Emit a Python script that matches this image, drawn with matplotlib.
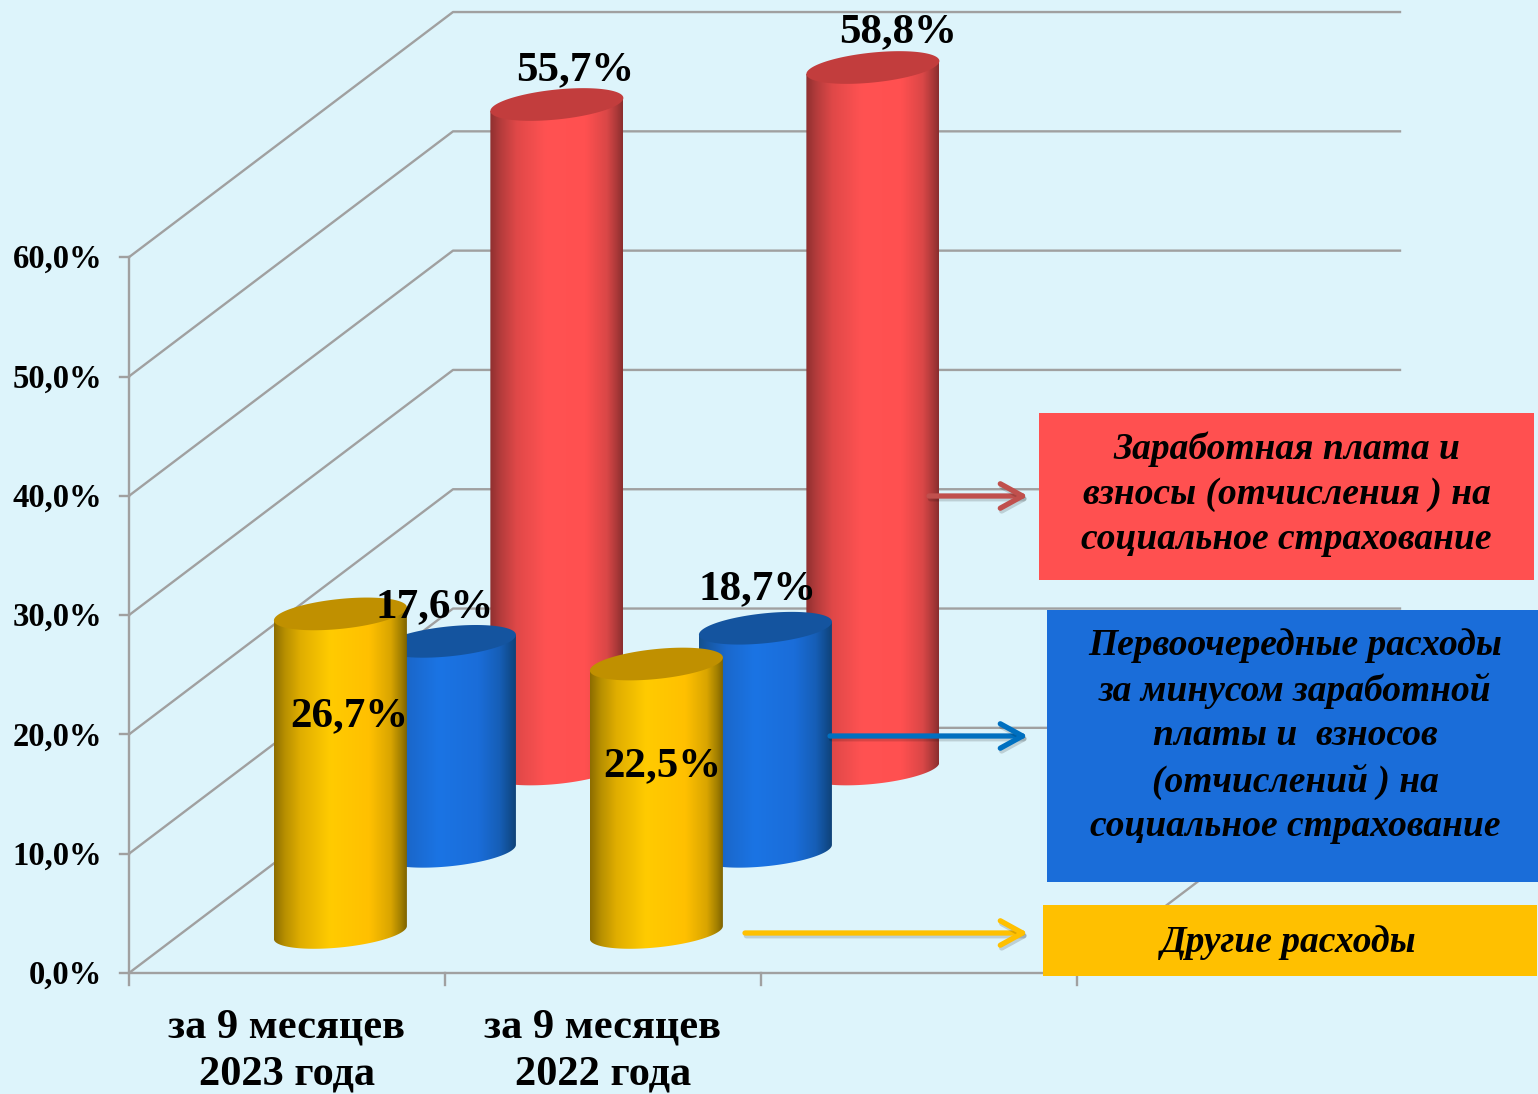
import matplotlib
matplotlib.use("Agg")
import matplotlib.pyplot as plt
import matplotlib.patheffects as pe
from matplotlib.colors import LinearSegmentedColormap
from matplotlib.patches import Polygon, Rectangle
import numpy as np

# chart values
categories = ["за 9 месяцев\n2023 года", "за 9 месяцев\n2022 года"]
other_costs = [26.7, 22.5]
priority_costs = [17.6, 18.7]
salary_costs = [55.7, 58.8]
y_ticks = [0, 10, 20, 30, 40, 50, 60]
legend_salary = "Заработная плата и\nвзносы (отчисления ) на\nсоциальное страхование"
legend_priority = ("Первоочередные расходы\nза минусом заработной\nплаты и  взносов\n"
                   "(отчислений ) на\nсоциальное страхование")
legend_other = "Другие расходы"

# layout, pixels of the picture
W, H = 1538, 1094
X0, Y0 = 129, 973
CAT_W = 316
PCT = 11.93
BG = "#DDF4FB"
GRID = "#A0A0A0"
SERIF = "Liberation Serif"


def px(x, y):
    # picture pixels to data units
    return (x - X0) / CAT_W, (Y0 - y) / PCT


fig = plt.figure(figsize=(W / 100, H / 100), dpi=100, facecolor=BG)
ax = fig.add_axes([0, 0, 1, 1])
ax.set_xlim(-X0 / CAT_W, (W - X0) / CAT_W)
ax.set_ylim((Y0 - H) / PCT, Y0 / PCT)
ax.set_autoscale_on(False)
ax.axis("off")

# walls and floor
depth_x, depth_y = 324 / CAT_W, 20.55
right_x = (1400 - 453) / CAT_W
glw = 1.7
for v in y_ticks:
    ax.plot([0, depth_x, depth_x + right_x], [v, v + depth_y, v + depth_y], color=GRID, lw=glw, zorder=1)
    ax.plot([-9 / CAT_W, 0], [v, v], color=GRID, lw=glw, zorder=1)
    ax.text(px(102, 0)[0], v - 0.2, f"{v:.1f}%".replace(".", ","), ha="right", va="center",
            family=SERIF, weight="bold", size=23.5, zorder=20)
ax.plot([0, 0], [-12 / PCT, 60], color=GRID, lw=glw, zorder=1)
ax.plot([0, 3], [0, 0], color=GRID, lw=glw, zorder=1)
ax.plot([3, 3 + depth_x], [0, depth_y], color=GRID, lw=glw, zorder=1)
for i in range(1, 4):
    ax.plot([i, i], [-12 / PCT, 0], color=GRID, lw=glw, zorder=1)

for i, c in enumerate(categories):
    ax.text(i + 0.5, px(0, 1051)[1], c, ha="center", va="center", family=SERIF, weight="bold",
            size=30.5, linespacing=1.32, zorder=20)

a = 66.5 / CAT_W
b = 15 / PCT
shear = 6.5 / PCT


def cylinder(cx, base, height, colors, top_color, z):
    t = np.linspace(np.pi, 2 * np.pi, 80)
    low = np.column_stack([cx + a * np.cos(t), base + shear * np.cos(t) + b * np.sin(t)])
    top = base + height
    outline = np.vstack([low, [cx + a, top + shear], [cx - a, top - shear]])
    body = Polygon(outline, closed=True, fc="none", ec="none", zorder=z)
    ax.add_patch(body)
    cmap = LinearSegmentedColormap.from_list("c", colors)
    grad = np.linspace(0, 1, 256).reshape(1, -1)
    im = ax.imshow(grad, extent=[cx - a, cx + a, base - 2 * b, top + 2 * b], aspect="auto", cmap=cmap,
                   zorder=z, interpolation="bilinear")
    im.set_clip_path(body)
    tt = np.linspace(0, 2 * np.pi, 160)
    cap = np.column_stack([cx + a * np.cos(tt), top + shear * np.cos(tt) + b * np.sin(tt)])
    ax.add_patch(Polygon(cap, closed=True, fc=top_color, ec="none", zorder=z + 0.1))


yellow = [(0, "#8C6D00"), (0.08, "#B78F00"), (0.2, "#E0AE00"), (0.42, "#FFCB00"),
          (0.72, "#FFC000"), (0.88, "#D9A500"), (0.96, "#A07E00"), (1, "#7F6400")]
blue = [(0, "#14508F"), (0.08, "#175AA8"), (0.2, "#1A68CC"), (0.42, "#1B74E4"),
        (0.72, "#1A6DD9"), (0.88, "#165EB6"), (0.96, "#114C8E"), (1, "#0F4278")]
red = [(0, "#8F3030"), (0.08, "#B53C3C"), (0.2, "#E04848"), (0.42, "#FF5252"),
       (0.72, "#FF5050"), (0.88, "#DA4747"), (0.96, "#A83838"), (1, "#8A2E2E")]

# back row first, front row last
for i in range(2):
    cylinder(i + 1.354, 17.1, salary_costs[i], red, "#C23D3D", 3 + i)
for i in range(2):
    cylinder(i + 1.014, 10.2, priority_costs[i], blue, "#14549F", 5 + i)
for i in range(2):
    cylinder(i + 0.669, 3.4, other_costs[i], yellow, "#C09000", 7 + i)


def pct_label(v, x, y):
    ax.text(*px(x, y), f"{v:.1f}%".replace(".", ","), ha="center", va="center", family=SERIF,
            weight="bold", size=31, zorder=20)


for v, (x, y) in zip(salary_costs, [(575, 70), (898, 32)]):
    pct_label(v, x, y)
for v, (x, y) in zip(priority_costs, [(435, 607), (758, 589)]):
    pct_label(v, x, y)
for v, (x, y) in zip(other_costs, [(349, 716), (662, 766)]):
    pct_label(v, x, y)


def legend_box(x0, x1, y0, y1, color, txt, tx, ty, spacing):
    xa, ya = px(x0, y1)
    xb, yb = px(x1, y0)
    ax.add_patch(Rectangle((xa, ya), xb - xa, yb - ya, fc=color, ec="none", zorder=15))
    ax.text(*px(tx, ty), txt, ha="center", va="center", family=SERIF,
            weight="bold", style="italic", size=27, linespacing=spacing, zorder=20)


legend_box(1039, 1534, 413, 580, "#FF5050", legend_salary, 1286.5, 494, 1.37)
legend_box(1047, 1538, 610, 882, "#1A6DD9", legend_priority, 1295, 736, 1.35)
legend_box(1043, 1537, 905, 976, "#FFC000", legend_other, 1289, 943, 1.37)


def arrow(x0, x1, y, color):
    ax.annotate("", xy=px(x1, y), xytext=px(x0, y), zorder=14,
                arrowprops=dict(arrowstyle="->,head_length=1,head_width=0.55", mutation_scale=16, color=color,
                                lw=3.8, shrinkA=0, shrinkB=0, capstyle="round",
                                path_effects=[pe.SimpleLineShadow(offset=(1, -2), alpha=0.15), pe.Normal()]))


arrow(929, 1028, 496, "#C0504D")
arrow(830, 1028, 736, "#0070C0")
arrow(745, 1028, 933, "#FFC000")

fig.savefig("out.png", dpi=100, facecolor=BG)
